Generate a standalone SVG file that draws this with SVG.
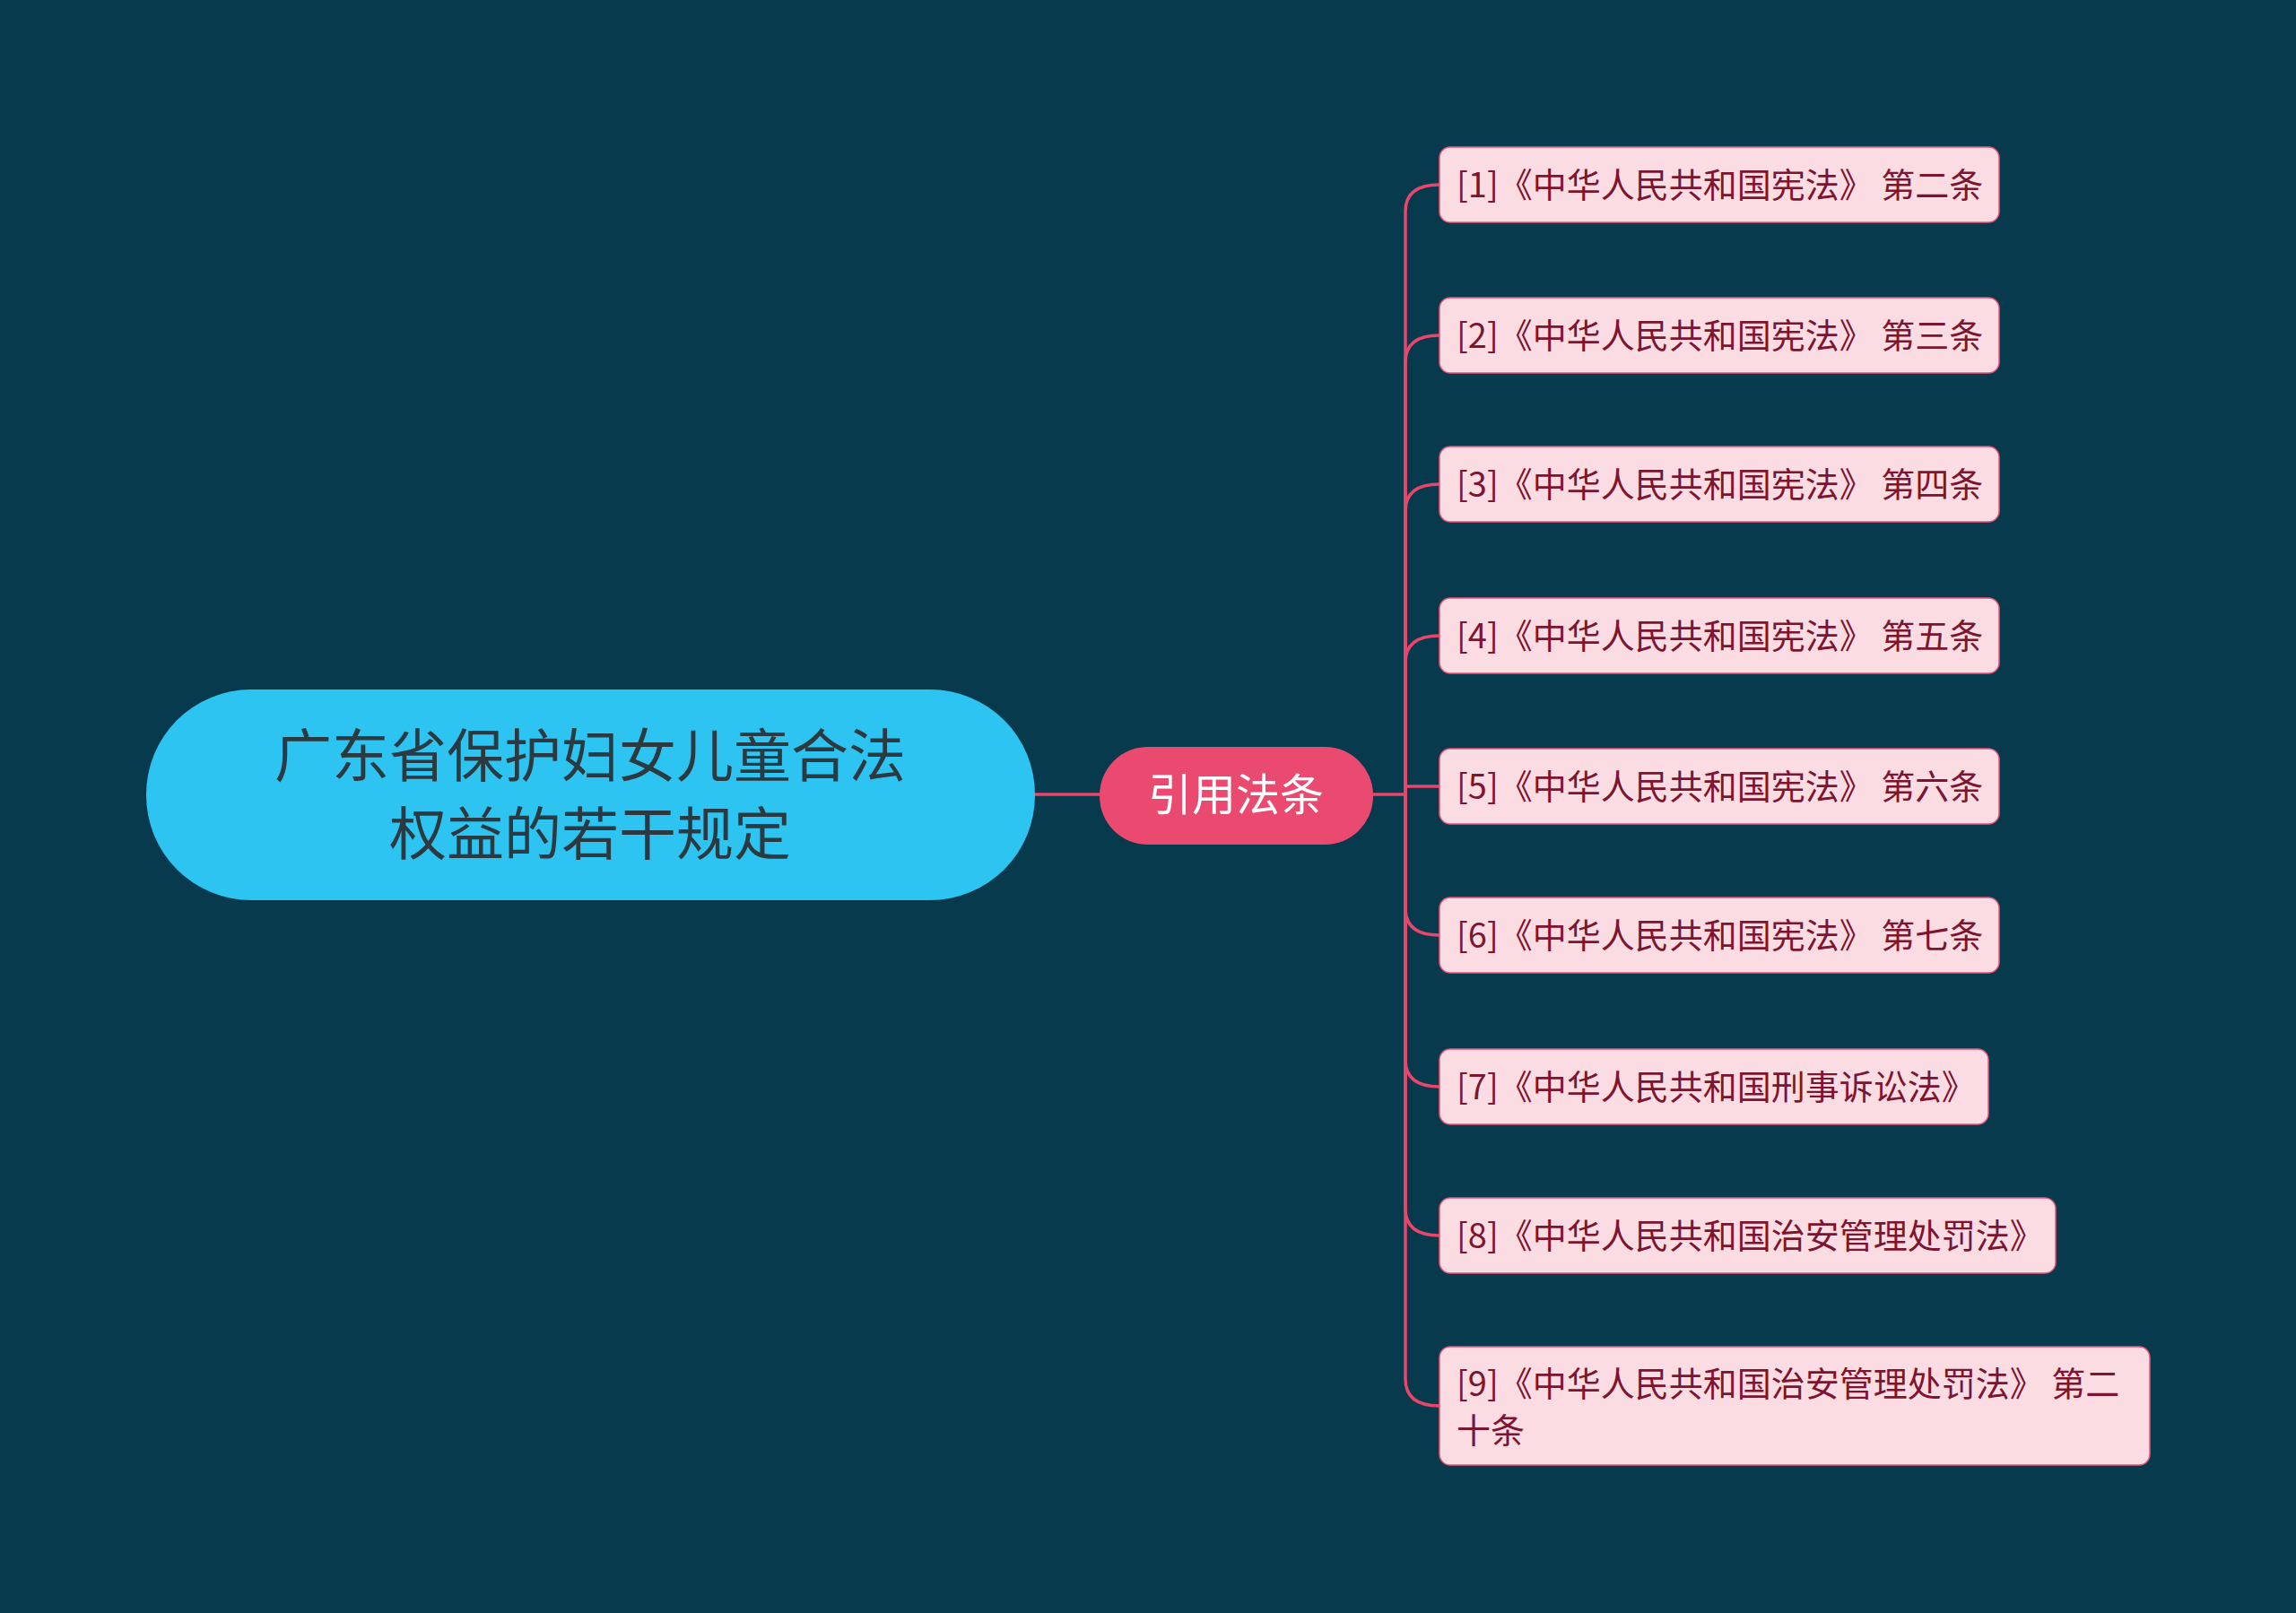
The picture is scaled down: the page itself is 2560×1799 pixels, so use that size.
<svg xmlns="http://www.w3.org/2000/svg" width="2560" height="1799" viewBox="0 0 2560 1799">
<style>
.leaf rect{fill:#fcdce3;stroke:#e8567a;stroke-width:1.5}
.leaf text{font-family:"Noto Sans CJK SC","Liberation Sans",sans-serif;font-size:38px;fill:#7d1530}
.c{fill:none;stroke:#e8466c;stroke-width:3.5}
</style>
<rect width="2560" height="1799" fill="#073a4c"/>
<g id="connectors">
<path class="c" d="M1154 886H1226"/>
<path class="c" d="M1531 886H1567"/>
<path class="c" d="M1567 886V236Q1567 206 1605 206"/>
<path class="c" d="M1567 886V404Q1567 374 1605 374"/>
<path class="c" d="M1567 886V570Q1567 540 1605 540"/>
<path class="c" d="M1567 886V739Q1567 709 1605 709"/>
<path class="c" d="M1567 886V877H1605"/>
<path class="c" d="M1567 886V1013Q1567 1043 1605 1043"/>
<path class="c" d="M1567 886V1182Q1567 1212 1605 1212"/>
<path class="c" d="M1567 886V1348Q1567 1378 1605 1378"/>
<path class="c" d="M1567 886V1538Q1567 1568 1605 1568"/>
</g>
<g id="root">
<rect x="163" y="769" width="991" height="235" rx="117" fill="#2ec4f2"/>
<text x="658" y="866" text-anchor="middle" font-family="Noto Sans CJK SC,Liberation Sans,sans-serif" font-size="64" fill="#2b3a40">广东省保护妇女儿童合法</text>
<text x="658" y="953" text-anchor="middle" font-family="Noto Sans CJK SC,Liberation Sans,sans-serif" font-size="64" fill="#2b3a40">权益的若干规定</text>
</g>
<g id="mid">
<rect x="1226" y="833" width="305" height="109" rx="54" fill="#ea4a70"/>
<text x="1378" y="904" text-anchor="middle" font-family="Noto Sans CJK SC,Liberation Sans,sans-serif" font-size="49" fill="#fff">引用法条</text>
</g>
<g id="n1" class="leaf"><rect x="1605" y="164" width="624" height="84" rx="12"/><text x="1624" y="220">[1]《中华人民共和国宪法》 第二条</text></g>
<g id="n2" class="leaf"><rect x="1605" y="332" width="624" height="84" rx="12"/><text x="1624" y="388">[2]《中华人民共和国宪法》 第三条</text></g>
<g id="n3" class="leaf"><rect x="1605" y="498" width="624" height="84" rx="12"/><text x="1624" y="554">[3]《中华人民共和国宪法》 第四条</text></g>
<g id="n4" class="leaf"><rect x="1605" y="667" width="624" height="84" rx="12"/><text x="1624" y="723">[4]《中华人民共和国宪法》 第五条</text></g>
<g id="n5" class="leaf"><rect x="1605" y="835" width="624" height="84" rx="12"/><text x="1624" y="891">[5]《中华人民共和国宪法》 第六条</text></g>
<g id="n6" class="leaf"><rect x="1605" y="1001" width="624" height="84" rx="12"/><text x="1624" y="1057">[6]《中华人民共和国宪法》 第七条</text></g>
<g id="n7" class="leaf"><rect x="1605" y="1170" width="612" height="84" rx="12"/><text x="1624" y="1226">[7]《中华人民共和国刑事诉讼法》</text></g>
<g id="n8" class="leaf"><rect x="1605" y="1336" width="687" height="84" rx="12"/><text x="1624" y="1392">[8]《中华人民共和国治安管理处罚法》</text></g>
<g id="n9" class="leaf"><rect x="1605" y="1502" width="792" height="132" rx="12"/><text x="1624" y="1557">[9]《中华人民共和国治安管理处罚法》 第二</text><text x="1624" y="1609">十条</text></g>
</svg>
